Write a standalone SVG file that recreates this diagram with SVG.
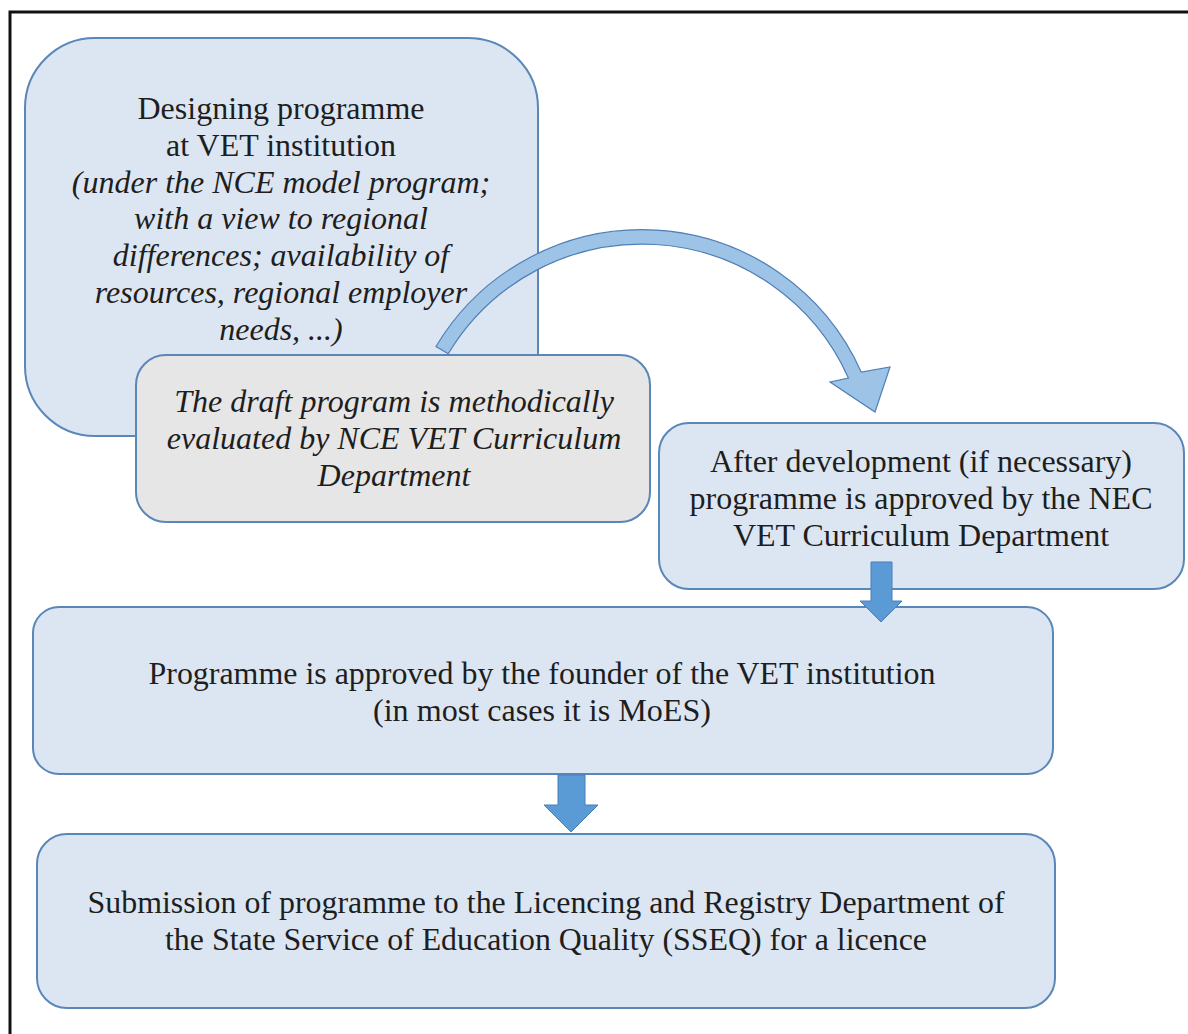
<svg xmlns="http://www.w3.org/2000/svg" width="1188" height="1034" viewBox="0 0 1188 1034">
<style>
.box{fill:#dce6f2;stroke:#5a86b8;stroke-width:2}
.gray{fill:#e6e6e6;stroke:#5a86b8;stroke-width:2}
.t{font-family:"Liberation Serif","Times New Roman",serif;font-size:32px;fill:#1e1e1e;text-anchor:middle}
.i{font-style:italic}
.arr{fill:#5b9bd5;stroke:#4a7ebb;stroke-width:1}
.carr{fill:#9dc3e6;stroke:#4f7fb5;stroke-width:1.2}
</style>
<rect width="1188" height="1034" fill="#ffffff"/>
<path d="M10 1034 V12 H1188" fill="none" stroke="#111" stroke-width="3"/>
<g id="node-design">
<rect class="box" x="25" y="38" width="513" height="398" rx="70" ry="70"/>
<text class="t" x="281" y="119">Designing programme</text>
<text class="t" x="281" y="156">at VET institution</text>
<text class="t i" x="281" y="193">(under the NCE model program;</text>
<text class="t i" x="281" y="229">with a view to regional</text>
<text class="t i" x="281" y="266">differences; availability of</text>
<text class="t i" x="281" y="303">resources, regional employer</text>
<text class="t i" x="281" y="340">needs, ...)</text>
</g>
<g id="connectors">
<path class="carr" d="M436 346.5 A240 240 0 0 1 861.3 372.2 L890 367 L875 412 L830 382 L848.4 378 A226 226 0 0 0 448.2 353.8 Z"/>
</g>
<g id="node-draft">
<rect class="gray" x="136" y="355" width="514" height="167" rx="30" ry="30"/>
<text class="t i" x="394" y="412">The draft program is methodically</text>
<text class="t i" x="394" y="449">evaluated by NCE VET Curriculum</text>
<text class="t i" x="394" y="486">Department</text>
</g>
<g id="node-approved-nec">
<rect class="box" x="659" y="423" width="525" height="166" rx="30" ry="30"/>
<text class="t" x="921" y="472">After development (if necessary)</text>
<text class="t" x="921" y="509">programme is approved by the NEC</text>
<text class="t" x="921" y="546">VET Curriculum Department</text>
</g>
<g id="node-founder">
<rect class="box" x="33" y="607" width="1020" height="167" rx="26" ry="26"/>
<text class="t" x="542" y="684" textLength="787" lengthAdjust="spacingAndGlyphs">Programme is approved by the founder of the VET institution</text>
<text class="t" x="542" y="721" textLength="338" lengthAdjust="spacingAndGlyphs">(in most cases it is MoES)</text>
</g>
<g id="node-submission">
<rect class="box" x="37" y="834" width="1018" height="174" rx="30" ry="30"/>
<text class="t" x="546" y="913" textLength="917" lengthAdjust="spacingAndGlyphs">Submission of programme to the Licencing and Registry Department of</text>
<text class="t" x="546" y="950" textLength="762" lengthAdjust="spacingAndGlyphs">the State Service of Education Quality (SSEQ) for a licence</text>
</g>
<g id="connectors-straight">
<path class="arr" d="M871 562 H892 V601 H902 L881 622 L860 601 H871 Z"/>
<path class="arr" d="M558 775 H585 V805 H598 L571 832 L544 805 H558 Z"/>
</g>
</svg>
